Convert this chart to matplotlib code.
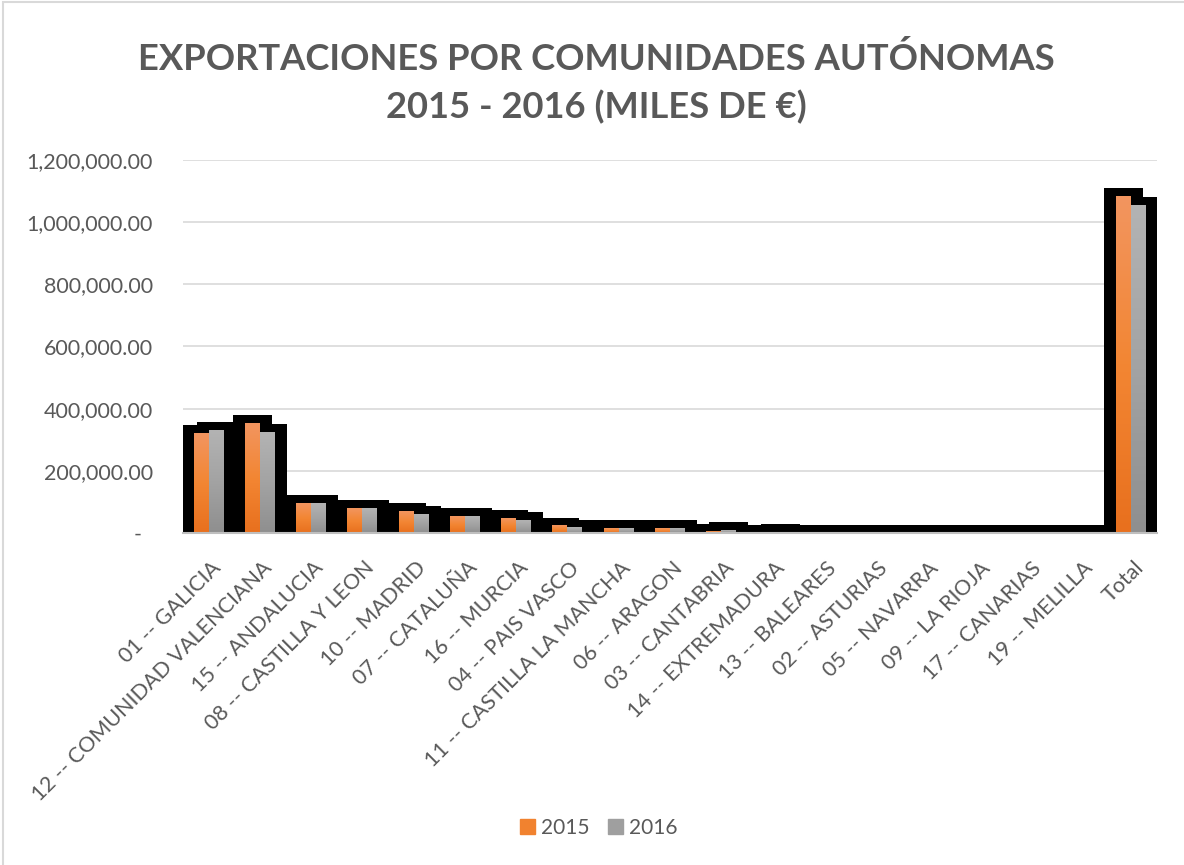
import matplotlib as mpl
mpl.use('Agg')
import matplotlib.pyplot as plt
from matplotlib.patches import Rectangle
from matplotlib.colors import LinearSegmentedColormap
from matplotlib.ticker import FuncFormatter, MultipleLocator
from matplotlib.transforms import ScaledTranslation
import numpy as np

# ------------------------------------------------------------------------ DATA
regions = ['01 -- GALICIA', '12 -- COMUNIDAD VALENCIANA', '15 -- ANDALUCIA',
           '08 -- CASTILLA Y LEON', '10 -- MADRID', '07 -- CATALUÑA',
           '16 -- MURCIA', '04 -- PAIS VASCO', '11 -- CASTILLA LA MANCHA',
           '06 -- ARAGON', '03 -- CANTABRIA', '14 -- EXTREMADURA',
           '13 -- BALEARES', '02 -- ASTURIAS', '05 -- NAVARRA',
           '09 -- LA RIOJA', '17 -- CANARIAS', '19 -- MELILLA', 'Total']
exp_2015 = [321000, 353000, 96000, 80000, 70500, 54500, 48000, 24000, 15000,
            15000, 4000, 500, 500, 800, 800, 300, 200, 100, 1084000]
exp_2016 = [330000, 324000, 96000, 80000, 61000, 54500, 41700, 17000, 15000,
            15000, 8500, 2000, 1500, 800, 800, 1500, 200, 100, 1055000]
series_names = ['2015', '2016']

# ----------------------------------------------------------------------- STYLE
plt.rcParams['font.family'] = ['Lato', 'DejaVu Sans']
TXT = '#595959'
orange_cm = LinearSegmentedColormap.from_list('o', ['#E8701E', '#F38633', '#F2955F'])
gray_cm = LinearSegmentedColormap.from_list('g', ['#8F8F8F', '#A3A3A3', '#B3B3B3'])

W, H = 1184, 865
fig = plt.figure(figsize=(W / 100, H / 100), dpi=100)
ax = fig.add_axes([183 / W, 1 - 533 / H, (1157 - 183) / W, (533 - 160) / H])

n = len(regions)
x = np.arange(n)
bw = 0.2926          # one bar ~15 px
sh_w = 0.761         # shadow ~39 px wide
sh_up = 25700        # shadow sticks out ~8 px above each bar

# black shadows behind each bar
for vals, off in ((exp_2015, -bw / 2), (exp_2016, bw / 2)):
    ax.bar(x + off, np.array(vals) + sh_up, width=sh_w, color='black', zorder=2)

# bars with vertical gradient
handles = []
for vals, off, cm, name in ((exp_2015, -bw / 2, orange_cm, series_names[0]),
                            (exp_2016, bw / 2, gray_cm, series_names[1])):
    bars = ax.bar(x + off, vals, width=bw, color=cm(0.5), zorder=3, label=name)
    grad = np.linspace(1, 0, 64).reshape(-1, 1)
    for b in bars:
        x0, h = b.get_x(), b.get_height()
        if h <= 0:
            continue
        ax.imshow(grad, cmap=cm, extent=[x0, x0 + bw, 0, h], aspect='auto',
                  zorder=4, interpolation='bicubic')
    handles.append(Rectangle((0, 0), 1, 1, color=cm(0.4)))

ax.set_xlim(-0.5, n - 0.5)
ax.set_ylim(0, 1200000)
ax.yaxis.set_major_locator(MultipleLocator(200000))
ax.yaxis.set_major_formatter(FuncFormatter(lambda v, p: '-  ' if v == 0 else f'{v:,.2f}'))
ax.grid(axis='y', color='#D9D9D9', lw=1.2, zorder=0)
ax.set_axisbelow(True)
for s in ('top', 'right', 'left'):
    ax.spines[s].set_visible(False)
ax.spines['bottom'].set_color('#BFBFBF')
ax.spines['bottom'].set_linewidth(1.5)
ax.spines['bottom'].set_zorder(5)
ax.tick_params(axis='both', length=0, colors=TXT, labelsize=15.5)
ax.tick_params(axis='y', pad=21.5)

ax.set_xticks(x)
ax.set_xticklabels(regions, rotation=45, ha='right', va='top', rotation_mode='anchor')
shift = ScaledTranslation(2 / 100, -20 / 100, fig.dpi_scale_trans)
for lab in ax.get_xticklabels():
    lab.set_transform(lab.get_transform() + shift)

fig.text(0.504, 1 - 83 / H, 'EXPORTACIONES POR COMUNIDADES AUTÓNOMAS\n2015 - 2016 (MILES DE €)',
         ha='center', va='center', fontsize=26.2, fontweight='bold', color=TXT,
         linespacing=1.5)

fig.legend(handles, series_names, loc='center', bbox_to_anchor=(599 / W, 1 - 828 / H),
           ncol=2, frameon=False, fontsize=15, handlelength=0.7, handleheight=0.7,
           handletextpad=0.3, columnspacing=0.9, labelcolor=TXT)

# light chart-area border
fig.add_artist(Rectangle((3 / W, -0.05), 1.1, 1 - 2 / H + 0.05, transform=fig.transFigure,
                         fill=False, ec='#D9D9D9', lw=1.5))

fig.savefig('out.png', dpi=100)
